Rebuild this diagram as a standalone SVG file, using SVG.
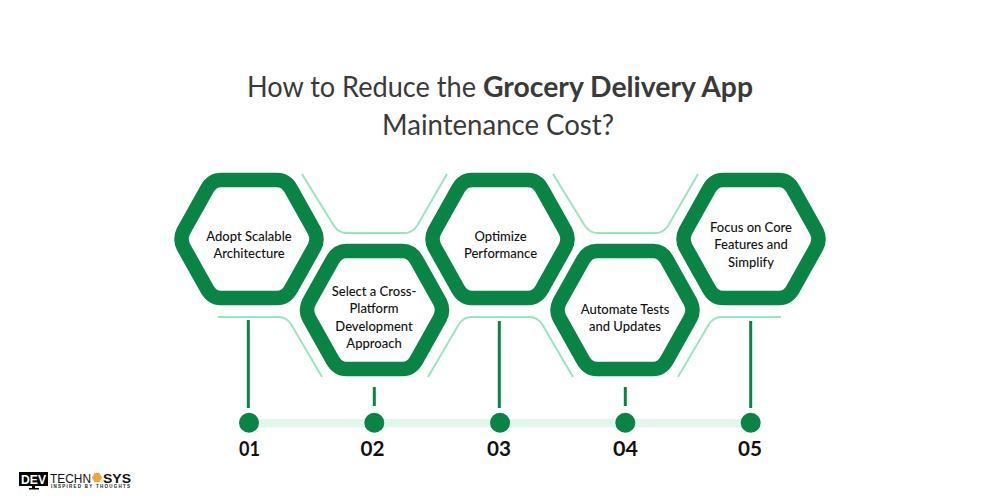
<svg xmlns="http://www.w3.org/2000/svg" width="1000" height="500" viewBox="0 0 1000 500">
<style>
.t{font-family:"Lato","Liberation Sans",sans-serif;fill:#3a3a3a;font-size:28px}
.b{font-weight:700}
.n{font-family:"Lato","Liberation Sans",sans-serif;fill:#111;font-size:13px;font-weight:500;text-anchor:middle}
.num{font-family:"Lato","Liberation Sans",sans-serif;fill:#111;font-size:21px;font-weight:700;text-anchor:middle}
.hex{fill:#fff;stroke:#0a8444;stroke-width:14.5;stroke-linejoin:round}
.lt{fill:none;stroke:#98e6bf;stroke-width:2}
.v{stroke:#0a8444;stroke-width:3;fill:none}
.lg{font-family:"Liberation Sans",sans-serif}
</style>
<defs>
<path id="h" d="M-65.500 -8Q-69.500 0 -65.500 8L-42 50Q-37 59 -28 59H28Q37 59 42 50L65.500 8Q69.500 0 65.500 -8L42 -50Q37 -59 28 -59H-28Q-37 -59 -42 -50Z"/>
</defs>
<rect width="1000" height="500" fill="#fff"/>
<g id="title">
<text class="t" x="247" y="97" textLength="229" lengthAdjust="spacingAndGlyphs">How to Reduce the</text>
<text class="t b" x="483" y="97" textLength="270" lengthAdjust="spacingAndGlyphs">Grocery Delivery App</text>
<text class="t" x="382" y="135" textLength="232" lengthAdjust="spacingAndGlyphs">Maintenance Cost?</text>
</g>
<g id="connectors">
<rect x="249" y="419" width="502" height="8.500" fill="#e3f6ec"/>
<path class="lt" d="M302 174L334 226Q339 233 346 233H405Q412 233 417 226L447 174"/>
<path class="lt" d="M553 174L585 226Q590 233 597 233H656Q663 233 668 226L698 174"/>
<path class="lt" d="M218 317H279Q286 317 291 324L322 377"/>
<path class="lt" d="M428 377L459 324Q464 317 471 317H530Q537 317 542 324L573 377"/>
<path class="lt" d="M678 377L709 324Q714 317 721 317H781"/>
<path class="v" d="M248.300 320V408M374.300 387V406M499.300 321V408M625.300 387V406M750.700 321V408"/>
</g>
<g id="node1"><use href="#h" class="hex" x="249" y="239"/><text class="n" x="249" y="241">Adopt Scalable</text><text class="n" x="249" y="258">Architecture</text></g>
<g id="node2"><use href="#h" class="hex" x="374.500" y="310"/><text class="n" x="374" y="296">Select a Cross-</text><text class="n" x="374" y="313">Platform</text><text class="n" x="374" y="331">Development</text><text class="n" x="374" y="348">Approach</text></g>
<g id="node3"><use href="#h" class="hex" x="500" y="239"/><text class="n" x="500.500" y="241">Optimize</text><text class="n" x="500.500" y="258">Performance</text></g>
<g id="node4"><use href="#h" class="hex" x="625" y="310"/><text class="n" x="625" y="314">Automate Tests</text><text class="n" x="625" y="331">and Updates</text></g>
<g id="node5"><use href="#h" class="hex" x="751" y="239"/><text class="n" x="751" y="232">Focus on Core</text><text class="n" x="751" y="249">Features and</text><text class="n" x="751" y="267">Simplify</text></g>
<g id="steps">
<circle cx="249" cy="422.700" r="10" fill="#0a8444"/><circle cx="374.300" cy="422.700" r="10" fill="#0a8444"/><circle cx="500" cy="422.700" r="10" fill="#0a8444"/><circle cx="625.300" cy="422.700" r="10" fill="#0a8444"/><circle cx="750.700" cy="422.700" r="10" fill="#0a8444"/>
<text class="num" x="249.500" y="456" textLength="21" lengthAdjust="spacingAndGlyphs">01</text><text class="num" x="372.500" y="456" textLength="24" lengthAdjust="spacingAndGlyphs">02</text><text class="num" x="499" y="456" textLength="24" lengthAdjust="spacingAndGlyphs">03</text><text class="num" x="625.500" y="456" textLength="25" lengthAdjust="spacingAndGlyphs">04</text><text class="num" x="750" y="456" textLength="24" lengthAdjust="spacingAndGlyphs">05</text>
</g>
<g id="logo">
<rect x="19" y="472" width="29" height="14" fill="#000"/><rect x="32" y="486" width="3" height="2" fill="#000"/><rect x="29" y="488" width="10" height="1.500" fill="#000"/>
<text class="lg" x="21" y="483.500" font-size="12" font-weight="700" fill="#fff" textLength="25" lengthAdjust="spacingAndGlyphs">DEV</text>
<text class="lg" x="50" y="482.500" font-size="12" fill="#111" textLength="41" lengthAdjust="spacingAndGlyphs">TECHN</text>
<polygon points="92,477.500 94.500,473 99.500,473 102,477.500 99.500,482 94.500,482" fill="#f2a33a"/>
<text class="lg" x="103" y="482.500" font-size="12" font-weight="700" fill="#111" textLength="28" lengthAdjust="spacingAndGlyphs">SYS</text>
<text class="lg" x="51" y="487.500" font-size="4.500" font-weight="700" fill="#222" textLength="79" lengthAdjust="spacing">INSPIRED BY THOUGHTS</text>
</g>
</svg>
